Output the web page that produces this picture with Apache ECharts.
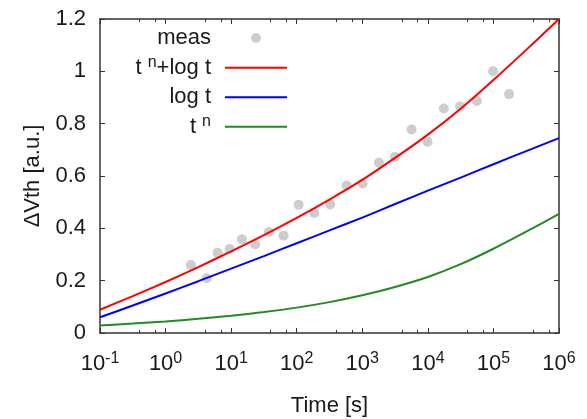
<!DOCTYPE html>
<html>
<head>
<meta charset="utf-8">
<script src="https://cdn.jsdelivr.net/npm/echarts@6/dist/echarts.min.js"></script>
<style>
  html, body { margin: 0; padding: 0; background: #fff; }
  #chart { width: 587px; height: 419px; }
</style>
</head>
<body>
<div id="chart"></div>
<script>
// Measured threshold-voltage shift versus stress time
const measTime = [2.44, 4.24, 6.22, 9.49, 14.6, 23.3, 37.7, 63.1, 107, 185, 324, 577,
  1010, 1790, 3140, 5650, 9890, 17500, 31000, 55800, 98900, 173000];
const measDvth = [0.260, 0.209, 0.307, 0.321, 0.358, 0.339, 0.386, 0.372, 0.490, 0.459, 0.491, 0.564,
  0.571, 0.651, 0.673, 0.778, 0.731, 0.858, 0.866, 0.887, 1.000, 0.913];

// Model curves sampled every half decade
const fitTime = [0.1, 0.316, 1, 3.16, 10, 31.6, 100, 316, 1000, 3162, 10000, 31623, 100000, 316228, 1000000];
const fitPowLog = [0.089, 0.141, 0.195, 0.252, 0.312, 0.374, 0.440, 0.510, 0.585, 0.669, 0.758, 0.857, 0.967, 1.082, 1.200];
const fitLog = [0.060, 0.105, 0.151, 0.198, 0.246, 0.294, 0.343, 0.392, 0.441, 0.493, 0.544, 0.594, 0.645, 0.695, 0.745];
const fitPow = [0.029, 0.036, 0.044, 0.054, 0.066, 0.080, 0.097, 0.118, 0.144, 0.176, 0.214, 0.263, 0.322, 0.387, 0.455];

const yTicks = [0, 0.2, 0.4, 0.6, 0.8, 1, 1.2];

const FONT = '"Liberation Sans", Arial, Helvetica, sans-serif';
const TXT = '#1a1a1a';
const AXIS = '#333';

const pairs = (xs, ys) => xs.map((x, i) => [x, ys[i]]);

const supRich = {
  b: { fontSize: 22, lineHeight: 26, fontFamily: FONT, color: TXT },
  s: { fontSize: 16, lineHeight: 16, verticalAlign: 'top', fontFamily: FONT, color: TXT }
};

const frameAxis = (extra) => Object.assign({
  axisLine: { show: true, onZero: false, lineStyle: { color: AXIS, width: 1.5 } },
  axisTick: { show: true, inside: true, length: 5, lineStyle: { color: AXIS, width: 1 } },
  splitLine: { show: false }
}, extra);

const chart = echarts.init(document.getElementById('chart'), null, { renderer: 'canvas' });

chart.setOption({
  animation: false,
  backgroundColor: '#fff',
  textStyle: { fontFamily: FONT },
  grid: { left: 100, right: 28, top: 19, bottom: 86, containLabel: false, outerBoundsMode: 'none' },
  xAxis: [
    frameAxis({
      type: 'log', logBase: 10, min: 0.1, max: 1000000, splitNumber: 7,
      position: 'bottom',
      name: 'Time [s]', nameLocation: 'middle', nameGap: 62,
      nameTextStyle: { fontSize: 22, color: TXT, fontFamily: FONT },
      minorTick: { show: true, splitNumber: 3, length: 3, lineStyle: { color: AXIS } },
      axisLabel: {
        margin: 18, color: TXT,
        formatter: (v) => '{b|10}{s|' + Math.round(Math.log10(v)) + '}',
        rich: supRich
      }
    }),
    frameAxis({
      type: 'log', logBase: 10, min: 0.1, max: 1000000, splitNumber: 7,
      position: 'top',
      minorTick: { show: true, splitNumber: 3, length: 3, lineStyle: { color: AXIS } },
      axisLabel: { show: false }
    })
  ],
  yAxis: [
    frameAxis({
      type: 'value', min: yTicks[0], max: yTicks[yTicks.length - 1], interval: 0.2,
      position: 'left',
      name: 'ΔVth [a.u.]', nameLocation: 'middle', nameGap: 56,
      nameTextStyle: { fontSize: 22, color: TXT, fontFamily: FONT },
      axisLabel: { margin: 14, fontSize: 22, color: TXT, fontFamily: FONT,
        formatter: (v) => String(+v.toFixed(1)) }
    }),
    frameAxis({
      type: 'value', min: yTicks[0], max: yTicks[yTicks.length - 1], interval: 0.2,
      position: 'right',
      axisLabel: { show: false }
    })
  ],
  legend: [
    {
      // the dot sits in the middle of a 62px slot, so the box ends 26px before the line samples
      data: ['meas'],
      orient: 'vertical', align: 'right', right: 326, top: 27,
      itemWidth: 62, itemHeight: 10, padding: 0,
      selectedMode: false,
      textStyle: { fontSize: 22, color: TXT, fontFamily: FONT, padding: [0, 9, 0, 0] }
    },
    {
      data: [
        { name: 't^n+log t', icon: 'rect' },
        { name: 'log t', icon: 'rect' },
        { name: 't^n', icon: 'rect' }
      ],
      orient: 'vertical', align: 'right', right: 300, top: 54.7,
      itemWidth: 62, itemHeight: 2, itemGap: 3.5, padding: 0,
      selectedMode: false,
      formatter: (name) => ({
        't^n+log t': '{b|t }{s|n}{b|+log t}',
        'log t': '{b|log t}',
        't^n': '{b|t }{s|n}'
      })[name],
      textStyle: { fontSize: 22, lineHeight: 26, color: TXT, fontFamily: FONT, padding: [0, 9, 0, 0], rich: supRich }
    }
  ],
  series: [
    {
      name: 'meas', type: 'scatter', symbol: 'circle', symbolSize: 10,
      itemStyle: { color: '#c0c0c0' },
      data: pairs(measTime, measDvth), z: 2
    },
    {
      name: 't^n+log t', type: 'line', smooth: 0.25, showSymbol: false, symbol: 'none',
      lineStyle: { color: '#ff0000', width: 2 }, itemStyle: { color: '#ff0000' },
      data: pairs(fitTime, fitPowLog), z: 3
    },
    {
      name: 'log t', type: 'line', smooth: 0.25, showSymbol: false, symbol: 'none',
      lineStyle: { color: '#0000ff', width: 2 }, itemStyle: { color: '#0000ff' },
      data: pairs(fitTime, fitLog), z: 3
    },
    {
      name: 't^n', type: 'line', smooth: 0.25, showSymbol: false, symbol: 'none',
      lineStyle: { color: '#228b22', width: 2 }, itemStyle: { color: '#228b22' },
      data: pairs(fitTime, fitPow), z: 3
    }
  ]
});
</script>
</body>
</html>
